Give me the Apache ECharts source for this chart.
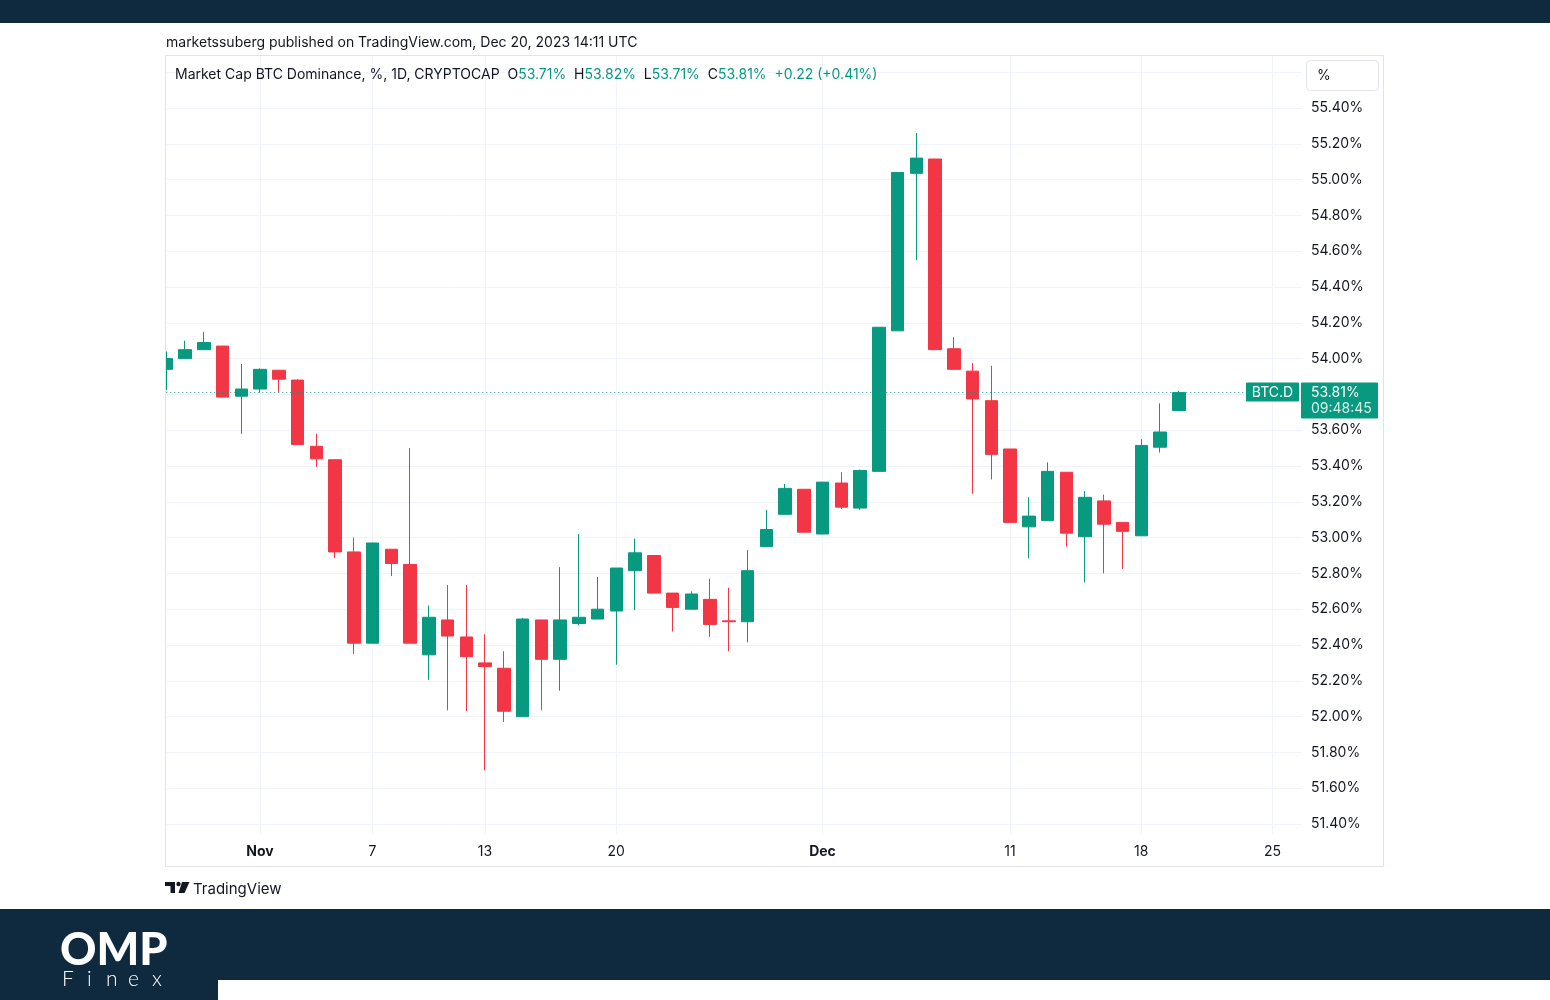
<!DOCTYPE html>
<html>
<head>
<meta charset="utf-8">
<script src="https://cdn.jsdelivr.net/npm/echarts@6/dist/echarts.min.js"></script>
<style>
html,body{margin:0;padding:0;background:#fff;}
#chart{width:1550px;height:1000px;}
</style>
</head>
<body>
<div id="chart"></div>
<script>
// ---- data ----
const dates = ['2023-10-27','2023-10-28','2023-10-29','2023-10-30','2023-10-31',
'2023-11-01','2023-11-02','2023-11-03','2023-11-04','2023-11-05','2023-11-06','2023-11-07','2023-11-08','2023-11-09','2023-11-10',
'2023-11-11','2023-11-12','2023-11-13','2023-11-14','2023-11-15','2023-11-16','2023-11-17','2023-11-18','2023-11-19','2023-11-20',
'2023-11-21','2023-11-22','2023-11-23','2023-11-24','2023-11-25','2023-11-26','2023-11-27','2023-11-28','2023-11-29','2023-11-30',
'2023-12-01','2023-12-02','2023-12-03','2023-12-04','2023-12-05','2023-12-06','2023-12-07','2023-12-08','2023-12-09','2023-12-10',
'2023-12-11','2023-12-12','2023-12-13','2023-12-14','2023-12-15','2023-12-16','2023-12-17','2023-12-18','2023-12-19','2023-12-20'];
const openV  = [53.94,54.00,54.05,54.07,53.79, 53.83,53.935,53.88,53.51,53.435,52.92,52.41,52.935,52.85,52.345,
52.54,52.445,52.30,52.27,52.00,52.54,52.32,52.52,52.545,52.59, 52.815,52.90,52.69,52.60,52.655,52.535,52.53,52.95,53.13,53.27,
53.02,53.305,53.165,53.37,54.155,55.035,55.115,54.055,53.93,53.765, 53.495,53.06,53.095,53.365,53.005,53.205,53.085,53.01,53.505,53.71];
const closeV = [54.00,54.05,54.09,53.785,53.83, 53.94,53.885,53.52,53.44,52.92,52.41,52.97,52.855,52.41,52.555,
52.45,52.335,52.28,52.03,52.545,52.32,52.54,52.555,52.60,52.83, 52.915,52.69,52.61,52.685,52.515,52.53,52.815,53.045,53.275,53.03,
53.31,53.17,53.375,54.175,55.04,55.12,54.05,53.94,53.775,53.465, 53.085,53.12,53.37,53.025,53.225,53.075,53.035,53.515,53.59,53.81];
const lowV   = [53.825,54.00,54.05,53.785,53.58, 53.81,53.81,53.52,53.395,52.885,52.35,52.41,52.785,52.41,52.205,
52.035,52.03,51.70,51.97,52.00,52.035,52.145,52.51,52.545,52.29, 52.595,52.69,52.475,52.60,52.445,52.365,52.415,52.95,53.13,53.03,
53.02,53.16,53.155,53.37,54.155,54.55,54.05,53.94,53.245,53.325, 53.085,52.885,53.095,52.95,52.75,52.80,52.825,53.01,53.475,53.71];
const highV  = [54.04,54.10,54.15,54.07,53.97, 53.945,53.935,53.885,53.58,53.435,53.00,52.97,52.935,53.50,52.62,
52.735,52.735,52.46,52.365,52.55,52.54,52.835,53.02,52.78,52.83, 52.995,52.90,52.69,52.70,52.77,52.72,52.93,53.155,53.30,53.27,
53.31,53.365,53.38,54.175,55.04,55.26,55.115,54.12,53.975,53.96, 53.495,53.225,53.42,53.365,53.26,53.24,53.085,53.55,53.75,53.82];
const tickDates  = ['2023-11-01','2023-11-07','2023-11-13','2023-11-20','2023-12-01','2023-12-11','2023-12-18','2023-12-25'];
const tickLabels = ['Nov','7','13','20','Dec','11','18','25'];
const boldLabels = ['Nov','Dec'];
const priceLabels = [51.4,51.6,51.8,52.0,52.2,52.4,52.6,52.8,53.0,53.2,53.4,53.6,53.8,54.0,54.2,54.4,54.6,54.8,55.0,55.2,55.4];
const priceLines  = priceLabels.concat([55.6]);
const symbolName = 'BTC.D';
const countdown = '09:48:45';

// ---- helpers ----
const DAY = 86400000;
const t0 = Date.parse(dates[0]);
const dayIdx = d => Math.round((Date.parse(d) - t0) / DAY);
const tickIdx = tickDates.map(dayIdx);
const candles = dates.map((d, i) => [dayIdx(d), openV[i], closeV[i], lowV[i], highV[i]]);
const last = dates.length - 1;
const lastClose = closeV[last];

const UP = '#089981', DOWN = '#F23645', TXT = '#131722', GRID = '#f0f3fa', NAVY = '#0f2a3e';
const FONT = 'Inter, Roboto, "Noto Sans", sans-serif';

const chart = echarts.init(document.getElementById('chart'), null, {renderer: 'canvas'});

const gridLeft = 166.25, gridTop = 56, gridW = 1135.75, gridH = 778;
const pxPerDay = 18.75;
const pxPerUnit = 179;

const option = {
  animation: false,
  backgroundColor: '#ffffff',
  grid: {left: gridLeft, top: gridTop, width: gridW, height: gridH, containLabel: false},
  xAxis: {
    type: 'value',
    min: 0,
    max: gridW / pxPerDay,
    axisLine: {show: false},
    axisTick: {show: false, customValues: tickIdx},
    splitLine: {show: true, lineStyle: {color: GRID, width: 1}},
    axisLabel: {
      customValues: tickIdx,
      margin: 11,
      color: TXT,
      fontSize: 14,
      fontFamily: FONT,
      formatter: v => {
        const k = tickIdx.indexOf(Math.round(v));
        const s = k >= 0 ? tickLabels[k] : '';
        return boldLabels.includes(s) ? '{b|' + s + '}' : s;
      },
      rich: {b: {fontWeight: 'bold', fontSize: 14, color: TXT, fontFamily: FONT}}
    }
  },
  yAxis: {
    type: 'value',
    position: 'right',
    min: 55.40 - (gridTop + gridH - 108) / pxPerUnit,
    max: 55.40 + (108 - gridTop) / pxPerUnit,
    scale: true,
    axisLine: {show: false},
    axisTick: {show: false, customValues: priceLines},
    splitLine: {show: true, lineStyle: {color: GRID, width: 1}},
    axisLabel: {
      customValues: priceLabels,
      margin: 9,
      align: 'left',
      padding: [2, 0, 0, 0],
      color: TXT,
      fontSize: 14,
      fontFamily: FONT,
      formatter: v => v.toFixed(2) + '%'
    }
  },
  series: [{
    type: 'candlestick',
    data: candles,
    encode: {x: 0, y: [1, 2, 3, 4]},
    barWidth: 13,
    clip: true,
    itemStyle: {color: UP, color0: DOWN, borderColor: UP, borderColor0: DOWN, borderWidth: 1},
    markLine: {
      silent: true,
      symbol: ['none', 'none'],
      label: {show: false},
      lineStyle: {color: UP, type: [1, 3], width: 1, opacity: 0.9},
      data: [{yAxis: lastClose}]
    }
  }],
  graphic: []
};
chart.setOption(option);

const yLast = chart.convertToPixel({yAxisIndex: 0}, lastClose);
const prevClose = closeV[last - 1];
const chg = lastClose - prevClose;
const pct = chg / prevClose * 100;

const g = [
  // mask left of the pane (clips the first candle)
  {type: 'rect', shape: {x: 140, y: 50, width: 25.5, height: 800}, style: {fill: '#ffffff'}, z: 30},
  // top bar
  {type: 'rect', shape: {x: 0, y: 0, width: 1550, height: 23}, style: {fill: NAVY}, z: 50},
  // bottom band
  {type: 'rect', shape: {x: 0, y: 909, width: 1550, height: 91}, style: {fill: NAVY}, z: 50},
  {type: 'rect', shape: {x: 218, y: 980, width: 1332, height: 20}, style: {fill: '#ffffff'}, z: 51},
  // frame
  {type: 'rect', shape: {x: 165.5, y: 55.5, width: 1218, height: 811}, style: {fill: 'none', stroke: '#e0e3eb', lineWidth: 1}, z: 40},
  // publisher line
  {type: 'text', x: 166, y: 43, style: {text: 'marketssuberg published on TradingView.com, Dec 20, 2023 14:11 UTC', fill: TXT, font: '14px ' + FONT, textVerticalAlign: 'middle'}, z: 60},
  // legend line
  {type: 'text', x: 175, y: 75, z: 60, style: {
    text: '{d|Market Cap BTC Dominance, %, 1D, CRYPTOCAP  O}{g|' + openV[last].toFixed(2) + '%}{d|  H}{g|' + highV[last].toFixed(2) + '%}{d|  L}{g|' + lowV[last].toFixed(2) + '%}{d|  C}{g|' + lastClose.toFixed(2) + '%}{g|  +' + chg.toFixed(2) + ' (+' + pct.toFixed(2) + '%)}',
    textVerticalAlign: 'middle',
    rich: {d: {fill: TXT, font: '14px ' + FONT}, g: {fill: UP, font: '14px ' + FONT}}
  }},
  // % button
  {type: 'rect', shape: {x: 1306.5, y: 60.5, width: 72, height: 30, r: 4}, style: {fill: '#ffffff', stroke: '#e0e3eb', lineWidth: 1}, z: 60},
  {type: 'text', x: 1317, y: 76, style: {text: '%', fill: TXT, font: '14px ' + FONT, textVerticalAlign: 'middle'}, z: 61},
  // last price tags
  {type: 'rect', shape: {x: 1246, y: yLast - 10, width: 53, height: 19, r: 1}, style: {fill: UP}, z: 70},
  {type: 'text', x: 1272.5, y: yLast + 0.5, style: {text: symbolName, fill: '#ffffff', font: '14px ' + FONT, textAlign: 'center', textVerticalAlign: 'middle'}, z: 71},
  {type: 'rect', shape: {x: 1301, y: yLast - 10, width: 77, height: 36, r: 1}, style: {fill: UP}, z: 70},
  {type: 'text', x: 1311, y: yLast + 0.5, style: {text: lastClose.toFixed(2) + '%', fill: '#ffffff', font: '14px ' + FONT, textVerticalAlign: 'middle'}, z: 71},
  {type: 'text', x: 1311, y: yLast + 16.5, style: {text: countdown, fill: '#d7efe9', font: '14px ' + FONT, textVerticalAlign: 'middle'}, z: 71},
  // TradingView footer logo
  {type: 'rect', shape: {x: 165, y: 882, width: 10, height: 4}, style: {fill: TXT}, z: 60},
  {type: 'rect', shape: {x: 170.5, y: 882, width: 4.5, height: 11}, style: {fill: TXT}, z: 60},
  {type: 'circle', shape: {cx: 178.5, cy: 884, r: 2.2}, style: {fill: TXT}, z: 60},
  {type: 'polygon', shape: {points: [[182, 882], [189.5, 882], [184.5, 893], [178.5, 893]]}, style: {fill: TXT}, z: 60},
  {type: 'text', x: 193, y: 889, style: {text: 'TradingView', fill: TXT, font: '15px ' + FONT, textVerticalAlign: 'middle'}, z: 60},
  // OMP Finex logo
  {type: 'text', x: 60, y: 950, style: {text: 'OMP', fill: '#ffffff', font: '900 45px Lato, "Open Sans", sans-serif', textVerticalAlign: 'middle'}, z: 60}
];
const finex = ['F','i','n','e','x'];
const finexX = [62, 87, 106, 128, 152];
finex.forEach((ch, i) => g.push({type: 'text', x: finexX[i], y: 979, style: {text: ch, fill: '#ffffff', font: '300 21px Lato, "Open Sans", sans-serif', textVerticalAlign: 'middle'}, z: 60}));

chart.setOption({graphic: g});
</script>
</body>
</html>
